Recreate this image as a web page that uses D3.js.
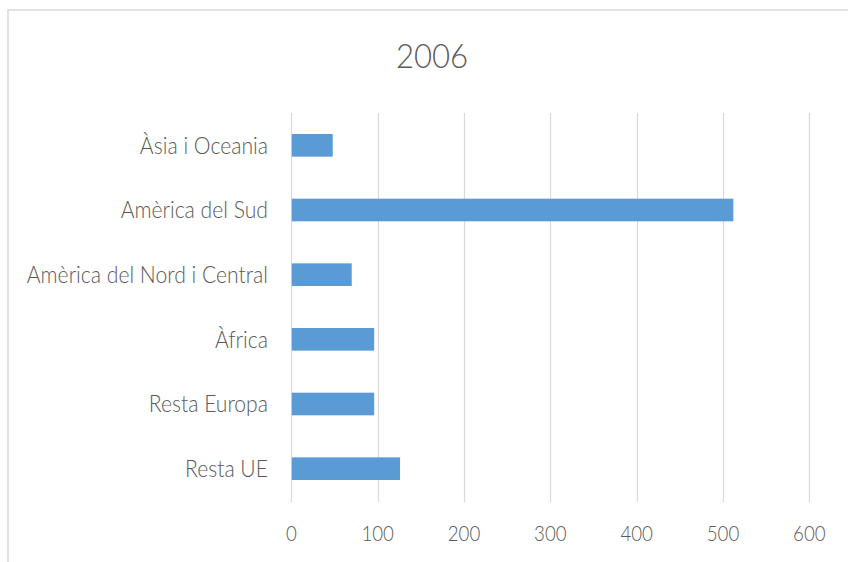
<!DOCTYPE html>
<html>
<head>
<meta charset="utf-8">
<script src="https://cdn.jsdelivr.net/npm/d3@7"></script>
<style>
  html, body { margin: 0; padding: 0; background: #fff; }
  svg { display: block; }
</style>
</head>
<body>
<svg id="chart" width="848" height="562"></svg>
<script>
const title = "2006";
const categories = ["Àsia i Oceania", "Amèrica del Sud", "Amèrica del Nord i Central", "Àfrica", "Resta Europa", "Resta UE"];
const values = [48, 512, 70, 96, 96, 126];
const tickValues = [0, 100, 200, 300, 400, 500, 600];

const W = 848, H = 562;
const font = "Lato, 'Open Sans', sans-serif";
const textColor = "#595959";

const svg = d3.select("#chart");

// chart frame (extends beyond the visible window)
svg.append("path")
  .attr("d", `M8,${H + 5} L8,10 L${W + 5},10`)
  .attr("fill", "none")
  .attr("stroke", "#d9d9d9")
  .attr("stroke-width", 1.5);

const x = d3.scaleLinear().domain([0, 600]).range([291.3, 809.3]);
const y = d3.scaleBand().domain(categories).range([113, 501]).paddingInner(0.65).paddingOuter(0.325);

// gridlines
svg.append("g").selectAll("line")
  .data(tickValues)
  .join("line")
  .attr("x1", d => Math.round(x(d)) + 0.5)
  .attr("x2", d => Math.round(x(d)) + 0.5)
  .attr("y1", 113)
  .attr("y2", 502)
  .attr("stroke", "#d9d9d9")
  .attr("stroke-width", 1.2);

// bars
svg.append("g").selectAll("rect")
  .data(categories.map((c, i) => ({ c, v: values[i] })))
  .join("rect")
  .attr("x", x(0) + 0.5)
  .attr("y", d => y(d.c))
  .attr("width", d => x(d.v) - x(0) - 0.5)
  .attr("height", y.bandwidth())
  .attr("fill", "#5b9bd5");

// x tick labels
svg.append("g").selectAll("text")
  .data(tickValues)
  .join("text")
  .attr("transform", d => `translate(${x(d)},541) scale(0.85,1)`)
  .attr("text-anchor", "middle")
  .attr("font-family", font)
  .attr("font-weight", 300)
  .attr("font-size", 22)
  .attr("fill", textColor)
  .text(d => d3.format("d")(d));

// category labels
svg.append("g").selectAll("text")
  .data(categories)
  .join("text")
  .attr("transform", d => `translate(268,${y(d) + y.bandwidth() / 2}) scale(0.92,1)`)
  .attr("dy", "0.36em")
  .attr("text-anchor", "end")
  .attr("font-family", font)
  .attr("font-weight", 300)
  .attr("font-size", 23)
  .attr("fill", textColor)
  .text(d => d);

// title
svg.append("text")
  .attr("transform", `translate(432,68) scale(0.93,1)`)
  .attr("text-anchor", "middle")
  .attr("font-family", font)
  .attr("font-weight", 300)
  .attr("font-size", 33.5)
  .attr("fill", textColor)
  .text(title);
</script>
</body>
</html>
